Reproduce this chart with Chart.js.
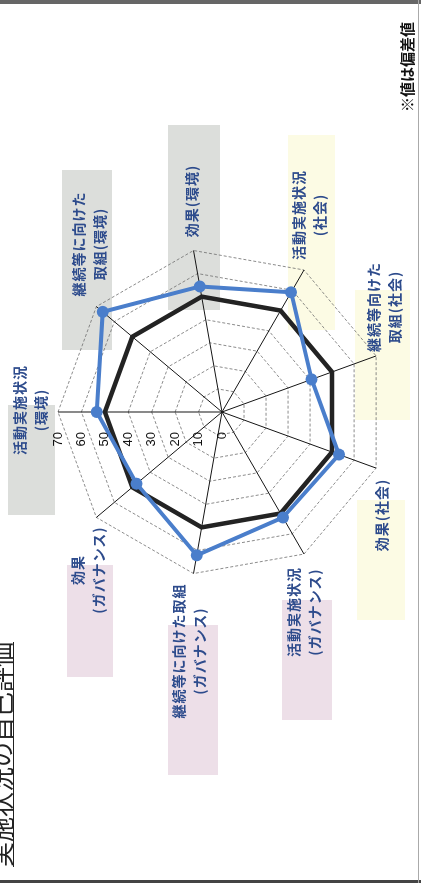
<!DOCTYPE html>
<html lang="ja">
<head>
<meta charset="utf-8">
<script src="https://cdn.jsdelivr.net/npm/chart.js@4/dist/chart.umd.min.js"></script>
<style>
  html, body { margin: 0; padding: 0; background: #fff; overflow: hidden; }
  /* the scan is turned a quarter turn, so the page is built upright and rotated */
  #page {
    position: absolute; left: 0; top: 0;
    width: 883px; height: 421px;
    transform-origin: 0 0;
    transform: translate(0, 883px) rotate(-90deg);
    overflow: hidden; background: #fff;
    font-family: "Noto Sans CJK JP", sans-serif;
  }
  #radar { position: absolute; left: 0; top: 0; z-index: 2; }
  .box { position: absolute; z-index: 1; }
  .lbl {
    position: absolute; z-index: 3;
    transform: translate(-50%, -50%);
    color: #2d4b8c; font-weight: bold; font-size: 14px;
    letter-spacing: 1px; line-height: 21px;
    text-align: center; white-space: nowrap;
  }
  #title {
    position: absolute; left: 16px; top: -12px; z-index: 3;
    font-size: 25px; line-height: 25px; color: #222;
    border-bottom: 1.5px solid #222;
  }
  #note {
    position: absolute; left: 771px; top: 399px; z-index: 3;
    font-size: 15px; font-weight: bold; line-height: 16px; color: #111;
  }
  .edge { position: absolute; z-index: 4; }
</style>
</head>
<body>
<div id="page">
  <div id="title">実施状況の自己評価</div>
  <div id="note">※値は偏差値</div>
  <canvas id="radar" width="883" height="421"></canvas>
  <div class="edge" style="left:0;top:0;width:3px;height:421px;background:#444"></div>
  <div class="edge" style="left:879px;top:0;width:4px;height:421px;background:#666"></div>
  <div class="edge" style="left:0;top:418px;width:883px;height:1px;background:#aaa"></div>
</div>
<script>
// 項目（軸ラベル）
const CATEGORIES = [
  ['活動実施状況', '(環境)'],
  ['継続等に向けた', '取組(環境)'],
  ['効果(環境)'],
  ['活動実施状況', '(社会)'],
  ['継続等向けた', '取組(社会)'],
  ['効果(社会)'],
  ['活動実施状況', '(ガバナンス)'],
  ['継続等に向けた取組', '(ガバナンス)'],
  ['効果', '(ガバナンス)']
];
// 自己評価（偏差値）
const SELF_SCORES = [53.5, 66.5, 54.4, 59.0, 40.7, 53.1, 52.0, 62.1, 47.6];
// 平均（偏差値50）
const AVERAGE = [50, 50, 50, 50, 50, 50, 50, 50, 50];
// 目盛
const TICKS = [0, 10, 20, 30, 40, 50, 60, 70];

// ラベルの配置（回転前の座標）
const LABEL_POS = [
  [473, 30], [639, 89], [682, 191], [668, 309], [576, 384],
  [368, 381], [271, 304], [232, 189], [313, 88]
];
// 背景の色枠 [x, y, w, h, 色]
const GREY = '#dcdedb', YELLOW = '#fcfbe4', PINK = '#eddfe8';
const BOXES = [
  [368, 8, 110, 47, GREY], [533, 62, 180, 50, GREY], [573, 168, 185, 52, GREY],
  [553, 288, 195, 47, YELLOW], [463, 355, 130, 55, YELLOW], [263, 357, 120, 48, YELLOW],
  [163, 282, 120, 50, PINK], [108, 168, 150, 50, PINK], [206, 67, 112, 46, PINK]
];

const page = document.getElementById('page');
BOXES.forEach(function(b) {
  const d = document.createElement('div');
  d.className = 'box';
  d.style.cssText = 'left:' + b[0] + 'px;top:' + b[1] + 'px;width:' + b[2] + 'px;height:' + b[3] + 'px;background:' + b[4];
  page.appendChild(d);
});
CATEGORIES.forEach(function(lines, i) {
  const d = document.createElement('div');
  d.className = 'lbl';
  d.style.left = LABEL_POS[i][0] + 'px';
  d.style.top = LABEL_POS[i][1] + 'px';
  d.innerHTML = lines.join('<br>');
  page.appendChild(d);
});

// 目盛ラベルを軸の左側に描く
const tickLabels = {
  id: 'tickLabels',
  afterDatasetsDraw(chart) {
    const scale = chart.scales.r;
    const ctx = chart.ctx;
    ctx.save();
    ctx.font = '13px "Liberation Sans", sans-serif';
    ctx.fillStyle = '#111';
    ctx.textAlign = 'right';
    ctx.textBaseline = 'middle';
    TICKS.forEach(function(t) {
      const p = scale.getPointPositionForValue(0, t);
      ctx.fillText(String(t), p.x - 20, p.y);
    });
    ctx.restore();
  }
};

new Chart(document.getElementById('radar'), {
  type: 'radar',
  data: {
    labels: CATEGORIES.map(function(l) { return l.join(''); }),
    datasets: [{
      data: SELF_SCORES,
      borderColor: '#4a7ecb',
      backgroundColor: '#4a7ecb',
      borderWidth: 4,
      pointRadius: 6,
      pointBackgroundColor: '#4a7ecb',
      pointBorderWidth: 0,
      fill: false
    }, {
      data: AVERAGE,
      borderColor: '#232323',
      borderWidth: 4.5,
      pointRadius: 0,
      fill: false
    }]
  },
  options: {
    responsive: false,
    animation: false,
    layout: { padding: { left: 307, right: 248, top: 58, bottom: 35 } },
    plugins: { legend: { display: false }, tooltip: { enabled: false } },
    elements: { line: { tension: 0 } },
    scales: {
      r: {
        min: 0,
        max: 70,
        ticks: { stepSize: 10, display: false },
        pointLabels: { display: false },
        grid: { color: '#6f6f6f', lineWidth: 0.8 },
        border: { dash: [3, 2] },
        angleLines: { color: '#151515', lineWidth: 1 }
      }
    }
  },
  plugins: [tickLabels]
});
</script>
</body>
</html>
